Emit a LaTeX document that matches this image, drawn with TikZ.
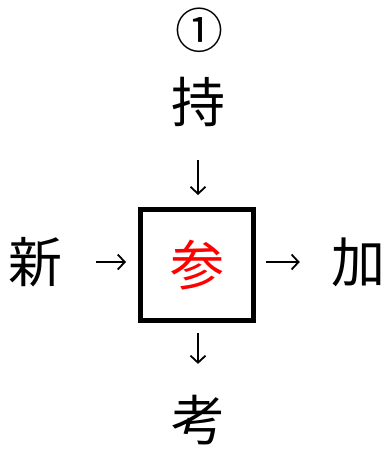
\documentclass[tikz,border=0pt]{standalone}
\usepackage{fontspec}
\newfontfamily\jpfont{Noto Sans CJK JP}
\usetikzlibrary{arrows.meta}

\begin{document}
\begin{tikzpicture}[x=1pt, y=-1pt,
  kanji/.style={font=\jpfont\fontsize{54}{54}\selectfont, inner sep=0pt},
  waku/.style={draw, line width=5pt, minimum width=113pt, minimum height=111pt, inner sep=0pt},
  arrow/.style={-{Straight Barb[length=7pt, width=15pt]}, line width=1.8pt},
  tobox/.style={arrow, shorten <=33pt, shorten >=12pt},
  frombox/.style={arrow, shorten <=10pt, shorten >=31pt}
]
\useasboundingbox (0,0) rectangle (390,455);

% number
\node[font=\jpfont\fontsize{48}{48}\selectfont, inner sep=0pt] (num) at (199,30) {①};

% centre box
\node[waku, kanji, text=red] (sanka) at (197,265) {参};

% surrounding kanji
\node[kanji] (mochi) at (198,102) {持};
\node[kanji] (shin)  at (36,262)  {新};
\node[kanji] (ka)    at (358,262) {加};
\node[kanji] (kou)   at (198,420) {考};

% arrows
\draw[tobox]   (mochi.south) -- (mochi.south |- sanka.north);
\draw[tobox]   (shin.east)   -- (shin.east -| sanka.west);
\draw[frombox] (ka.west -| sanka.east) -- (ka.west);
\draw[frombox] (kou.north |- sanka.south) -- (kou.north);

\end{tikzpicture}
\end{document}
